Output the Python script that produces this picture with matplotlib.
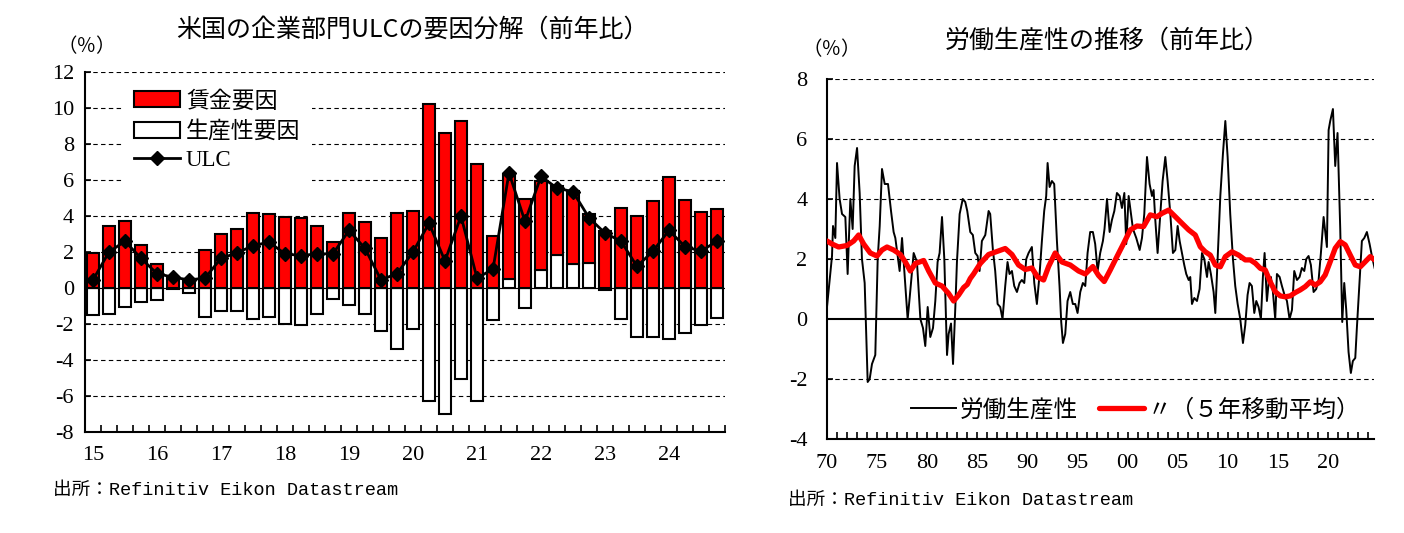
import numpy as np
import matplotlib.pyplot as plt
from matplotlib.patches import Patch
from matplotlib.lines import Line2D

plt.rcParams['font.family'] = ['Noto Sans CJK JP', 'DejaVu Sans']
plt.rcParams['axes.unicode_minus'] = False

# ---- left chart: ULC decomposition, quarterly 2015Q1-2024Q4 ----
year_labels = ['15', '16', '17', '18', '19', '20', '21', '22', '23', '24']
wage = [1.95, 3.45, 3.70, 2.40, 1.35, 0.60, 0.45, 2.10, 3.00, 3.30,
        4.15, 4.10, 3.96, 3.87, 3.44, 2.56, 4.15, 3.69, 2.80, 4.15,
        4.30, 10.20, 8.60, 9.30, 6.90, 2.90, 5.85, 4.93, 4.93, 3.81,
        4.05, 2.70, 3.16, 4.46, 4.00, 4.83, 6.19, 4.89, 4.24, 4.37]
prod = [-1.48, -1.44, -1.04, -0.78, -0.65, -0.05, -0.25, -1.60, -1.28, -1.28,
        -1.72, -1.60, -2.00, -2.06, -1.46, -0.63, -0.94, -1.46, -2.37, -3.40,
        -2.30, -6.30, -7.00, -5.05, -6.25, -1.77, 0.50, -1.12, 1.02, 1.86,
        1.34, 1.39, -0.13, -1.71, -2.70, -2.70, -2.83, -2.51, -2.04, -1.67]
ulc = [0.45, 2.00, 2.60, 1.65, 0.80, 0.60, 0.45, 0.55, 1.65, 1.95,
       2.35, 2.55, 1.90, 1.80, 1.90, 1.90, 3.20, 2.20, 0.45, 0.80,
       2.00, 3.60, 1.50, 4.00, 0.55, 1.05, 6.40, 3.70, 6.20, 5.55,
       5.35, 3.90, 3.05, 2.60, 1.20, 2.05, 3.20, 2.30, 2.05, 2.60]

# ---- right chart: labour productivity (y/y) and 5-year moving average ----
prod_t = [1970.00, 1970.50, 1970.60, 1970.83, 1971.00, 1971.26, 1971.50, 1971.83,
          1972.06, 1972.33, 1972.56, 1972.76, 1973.00, 1973.26, 1973.49, 1973.76,
          1974.06, 1974.26, 1974.49, 1974.82, 1975.06, 1975.26, 1975.49, 1975.76,
          1976.09, 1976.39, 1976.65, 1976.82, 1977.05, 1977.25, 1977.49, 1977.72,
          1978.05, 1978.25, 1978.49, 1978.65, 1978.98, 1979.32, 1979.58, 1979.81,
          1980.05, 1980.31, 1980.58, 1980.81, 1981.04, 1981.24, 1981.48, 1981.71,
          1981.98, 1982.14, 1982.38, 1982.58, 1982.81, 1982.97, 1983.24, 1983.55,
          1983.80, 1984.00, 1984.30, 1984.56, 1984.80, 1985.03, 1985.23, 1985.46,
          1985.80, 1986.13, 1986.29, 1986.56, 1986.79, 1987.03, 1987.29, 1987.52,
          1987.79, 1988.02, 1988.22, 1988.46, 1988.69, 1988.96, 1989.22, 1989.45,
          1989.69, 1989.89, 1990.12, 1990.45, 1990.69, 1990.95, 1991.22, 1991.45,
          1991.68, 1991.88, 1992.02, 1992.22, 1992.45, 1992.68, 1992.95, 1993.21,
          1993.38, 1993.55, 1993.78, 1994.01, 1994.28, 1994.54, 1994.78, 1995.01,
          1995.28, 1995.54, 1995.78, 1996.01, 1996.27, 1996.54, 1996.77, 1997.01,
          1997.27, 1997.54, 1997.70, 1997.95, 1998.21, 1998.44, 1998.68, 1998.94,
          1999.21, 1999.44, 1999.68, 1999.87, 2000.11, 2000.34, 2000.54, 2000.87,
          2001.21, 2001.44, 2001.67, 2001.94, 2002.20, 2002.44, 2002.60, 2002.77,
          2003.00, 2003.27, 2003.50, 2003.77, 2004.00, 2004.27, 2004.53, 2004.77,
          2005.00, 2005.20, 2005.43, 2005.66, 2005.86, 2006.10, 2006.26, 2006.43,
          2006.66, 2006.93, 2007.19, 2007.43, 2007.66, 2007.93, 2008.09, 2008.32,
          2008.59, 2008.76, 2008.99, 2009.26, 2009.52, 2009.76, 2009.99, 2010.25,
          2010.52, 2010.75, 2010.99, 2011.25, 2011.52, 2011.75, 2011.98, 2012.18,
          2012.41, 2012.65, 2012.85, 2013.08, 2013.31, 2013.51, 2013.68, 2013.91,
          2014.11, 2014.31, 2014.51, 2014.74, 2014.91, 2015.18, 2015.41, 2015.67,
          2015.91, 2016.17, 2016.41, 2016.64, 2016.91, 2017.17, 2017.40, 2017.64,
          2017.84, 2018.07, 2018.30, 2018.57, 2018.83, 2019.07, 2019.30, 2019.57,
          2019.73, 2019.90, 2020.07, 2020.23, 2020.50, 2020.73, 2020.96, 2021.23,
          2021.43, 2021.63, 2021.83, 2022.06, 2022.29, 2022.49, 2022.73, 2022.89,
          2023.16, 2023.39, 2023.63, 2023.89, 2024.16, 2024.39, 2024.66]
prod_v = [0.4, 2.1, 3.1, 2.7, 5.2, 4.0, 3.5, 3.4,
          1.5, 4.0, 3.0, 5.1, 5.7, 4.2, 2.0, 1.2,
          -2.1, -2.0, -1.5, -1.2, 2.0, 3.1, 5.0, 4.5,
          4.5, 3.6, 2.9, 2.7, 2.1, 1.6, 2.7, 1.6,
          0.0, 0.7, 1.6, 2.2, 1.9, 0.0, -0.3, -0.9,
          0.4, -0.6, -0.3, 0.6, 1.9, 2.2, 3.4, 2.0,
          -1.2, -0.5, -0.15, -1.5, 0.4, 1.9, 3.5, 4.0,
          3.9, 3.6, 2.9, 2.8, 2.2, 2.1, 1.6, 2.6,
          2.8, 3.6, 3.5, 2.3, 1.6, 0.5, 0.4, 0.0,
          1.1, 1.9, 1.5, 1.6, 1.1, 0.9, 1.2, 1.3,
          1.2, 2.0, 2.2, 2.4, 1.2, 0.5, 1.5, 2.6,
          3.6, 4.1, 5.2, 4.4, 4.6, 4.5, 2.6, 1.1,
          -0.1, -0.8, -0.5, 0.6, 0.9, 0.5, 0.5, 0.2,
          0.9, 1.2, 1.1, 2.2, 2.9, 2.9, 2.5, 1.6,
          2.2, 2.6, 3.0, 4.0, 2.9, 3.3, 3.6, 4.2,
          4.1, 3.7, 4.2, 2.5, 4.1, 3.5, 3.0, 2.7,
          2.3, 2.7, 3.5, 5.4, 4.5, 4.1, 4.3, 3.3,
          2.2, 3.5, 4.6, 5.4, 4.6, 3.5, 2.2, 2.3,
          3.1, 2.6, 2.2, 1.8, 1.5, 1.3, 1.4, 0.5,
          0.7, 0.6, 1.0, 2.2, 2.0, 1.4, 1.9, 1.5,
          0.9, 0.2, 2.0, 4.1, 5.5, 6.6, 5.4, 3.5,
          2.0, 1.1, 0.5, 0.0, -0.8, -0.2, 0.8, 1.2,
          1.1, 0.2, 0.6, 0.4, 0.0, 1.4, 2.2, 0.6,
          1.3, 1.4, 0.9, 0.0, 1.5, 1.4, 1.1, 0.8,
          0.6, 0.0, 0.3, 1.6, 1.3, 1.4, 1.7, 1.6,
          2.0, 2.1, 1.8, 0.9, 1.0, 1.3, 2.2, 3.4,
          2.9, 2.4, 6.3, 6.6, 7.0, 5.1, 6.2, 3.0,
          -0.1, 1.2, 0.3, -1.1, -1.8, -1.4, -1.3, -0.3,
          1.3, 2.6, 2.7, 2.9, 2.5, 2.1, 1.7]

ma_t = [1970.00, 1970.50, 1971.16, 1972.00, 1972.66, 1973.16, 1973.66, 1974.32,
        1974.99, 1975.49, 1975.99, 1976.65, 1977.32, 1977.82, 1978.32, 1978.82,
        1979.65, 1980.15, 1980.81, 1981.48, 1982.14, 1982.64, 1983.14, 1983.64,
        1984.00, 1984.30, 1984.63, 1985.30, 1986.13, 1986.96, 1987.79, 1988.46,
        1989.12, 1989.79, 1990.45, 1991.02, 1991.62, 1992.12, 1992.78, 1993.45,
        1994.28, 1995.11, 1995.78, 1996.54, 1997.11, 1997.67, 1998.27, 1998.94,
        1999.61, 2000.27, 2000.94, 2001.60, 2002.27, 2002.94, 2003.43, 2004.10,
        2004.77, 2005.43, 2006.10, 2006.76, 2007.26, 2007.76, 2008.26, 2008.76,
        2009.26, 2009.76, 2010.42, 2011.09, 2011.75, 2012.25, 2012.75, 2013.25,
        2013.75, 2014.24, 2014.74, 2015.24, 2015.74, 2016.24, 2016.74, 2017.24,
        2017.74, 2018.24, 2018.74, 2019.23, 2019.73, 2020.23, 2020.73, 2021.23,
        2021.73, 2022.23, 2022.73, 2023.23, 2023.73, 2024.22, 2024.66]
ma_v = [2.6, 2.5, 2.4, 2.45, 2.6, 2.8, 2.5, 2.2,
        2.1, 2.3, 2.4, 2.3, 2.15, 1.9, 1.6, 1.85,
        1.95, 1.6, 1.2, 1.1, 0.85, 0.6, 0.8, 1.05,
        1.15, 1.35, 1.5, 1.85, 2.15, 2.25, 2.35, 2.15,
        1.8, 1.65, 1.7, 1.4, 1.3, 1.75, 2.2, 1.9,
        1.8, 1.6, 1.5, 1.75, 1.45, 1.25, 1.63, 2.08,
        2.52, 2.97, 3.1, 3.08, 3.47, 3.41, 3.52, 3.63,
        3.41, 3.19, 2.97, 2.8, 2.41, 2.24, 2.13, 1.8,
        1.74, 2.08, 2.24, 2.13, 1.97, 1.97, 1.86, 1.69,
        1.63, 1.24, 0.91, 0.77, 0.74, 0.77, 0.88, 0.97,
        1.08, 1.24, 1.13, 1.24, 1.47, 1.91, 2.36, 2.58,
        2.47, 2.13, 1.8, 1.74, 1.91, 2.08, 1.97]

decade_labels = ['70', '75', '80', '85', '90', '95', '00', '05', '10', '15', '20']

W, H = 1404, 533
fig = plt.figure(figsize=(W / 100, H / 100), dpi=100)


def fx(px):
    return px / W


def fy(py):
    return 1 - py / H


num_font = ['Liberation Serif', 'Noto Sans CJK JP']
src_font = ['Liberation Mono', 'Noto Sans CJK JP']
dash = (0, (4, 3))
tick_fs = 16
title_fs = 18

# ---------------- left chart ----------------
ax1 = fig.add_axes([fx(85), fy(432), fx(725) - fx(85), fy(72) - fy(432)])
x = np.arange(len(wage))
wage_a = np.array(wage)
prod_a = np.array(prod)
base = np.where((prod_a > 0) & (wage_a > 0), prod_a, 0)

ax1.bar(x, prod_a, width=0.74, color='white', edgecolor='black', linewidth=1.5, zorder=2)
ax1.bar(x, wage_a, bottom=base, width=0.74, color='red', edgecolor='black', linewidth=1.5, zorder=2)
ax1.plot(x, ulc, color='black', lw=2, marker='D', markersize=7, zorder=3)
ax1.axhline(0, color='black', lw=0.8, zorder=2.5)

ax1.set_xlim(-0.5, len(wage) - 0.5)
ax1.set_ylim(-8, 12)
ax1.set_yticks(np.arange(-8, 13, 2))
for yv in np.arange(-6, 13, 2):
    if yv != 0:
        ax1.axhline(yv, color='black', lw=0.8, linestyle=dash, zorder=1)

ax1.set_xticks(np.arange(-0.5, len(wage), 1))
ax1.set_xticklabels([])
ax1.set_xticks(np.arange(0, len(wage), 4), minor=True)
ax1.set_xticklabels(year_labels, minor=True, family=num_font, fontsize=tick_fs)
ax1.tick_params(axis='x', which='major', direction='in', length=5, width=1.2)
ax1.tick_params(axis='x', which='minor', length=0, pad=10)
ax1.tick_params(axis='y', direction='in', length=4, width=1.2, pad=8)
for lab in ax1.get_yticklabels():
    lab.set_family(num_font)
    lab.set_fontsize(tick_fs)
for s in ['top', 'right']:
    ax1.spines[s].set_visible(False)
for s in ['left', 'bottom']:
    ax1.spines[s].set_linewidth(1.5)

handles1 = [Patch(facecolor='red', edgecolor='black', linewidth=1.5),
            Patch(facecolor='white', edgecolor='black', linewidth=1.5),
            Line2D([], [], color='black', lw=2, marker='D', markersize=7)]
leg1 = ax1.legend(handles1, ['賃金要因', '生産性要因', 'ULC'], loc='upper left',
                  bbox_to_anchor=(fx(123), fy(78)), bbox_transform=fig.transFigure,
                  fontsize=16.5, frameon=True, facecolor='white', edgecolor='none',
                  framealpha=1, fancybox=False, borderaxespad=0, borderpad=0.5,
                  handlelength=2.0, handleheight=0.7, handletextpad=0.25, labelspacing=0.32)
leg1.get_texts()[2].set_family(num_font)

fig.text(fx(412), fy(30), '米国の企業部門ULCの要因分解（前年比）', ha='center', va='center', fontsize=title_fs)
fig.text(fx(87), fy(47), '（％）', ha='center', va='center', fontsize=14)
fig.text(fx(53), fy(490), '出所：Refinitiv Eikon Datastream', ha='left', va='center',
         fontsize=13.4, family=src_font)

# ---------------- right chart ----------------
ax2 = fig.add_axes([fx(827), fy(439), fx(1374) - fx(827), fy(79) - fy(439)])
ax2.plot(prod_t, prod_v, color='black', lw=1.4, zorder=3, label='労働生産性')
ax2.plot(ma_t, ma_v, color='red', lw=3.8, zorder=4, solid_joinstyle='round',
         solid_capstyle='round', label='〃（５年移動平均）')
ax2.axhline(0, color='black', lw=1.5, zorder=2)
for yv in [-2, 2, 4, 6, 8]:
    ax2.axhline(yv, color='black', lw=0.8, linestyle=dash, zorder=1)

ax2.set_xlim(1970, 2024.6)
ax2.set_ylim(-4, 8)
ax2.set_yticks(np.arange(-4, 9, 2))
yrs = np.arange(1970, 2025)
ax2.set_xticks(yrs)
ax2.set_xticklabels([decade_labels[(y - 1970) // 5] if (y - 1970) % 5 == 0 else '' for y in yrs],
                    family=num_font, fontsize=tick_fs)
ax2.tick_params(axis='x', direction='in', length=5, width=1.2, pad=11)
ax2.tick_params(axis='y', direction='in', length=4, width=1.2, pad=14)
for lab in ax2.get_yticklabels():
    lab.set_family(num_font)
    lab.set_fontsize(tick_fs)
for s in ['top', 'right']:
    ax2.spines[s].set_visible(False)
for s in ['left', 'bottom']:
    ax2.spines[s].set_linewidth(1.5)

ax2.legend(loc='center left', bbox_to_anchor=(fx(902), fy(410)), bbox_transform=fig.transFigure,
           ncol=2, fontsize=17, frameon=False, borderaxespad=0, handlelength=1.9,
           handletextpad=0.15, columnspacing=0.9)

fig.text(fx(1107), fy(40), '労働生産性の推移（前年比）', ha='center', va='center', fontsize=title_fs)
fig.text(fx(832), fy(50), '（％）', ha='center', va='center', fontsize=14)
fig.text(fx(788), fy(500), '出所：Refinitiv Eikon Datastream', ha='left', va='center',
         fontsize=13.4, family=src_font)

fig.savefig('out.png', dpi=100)
